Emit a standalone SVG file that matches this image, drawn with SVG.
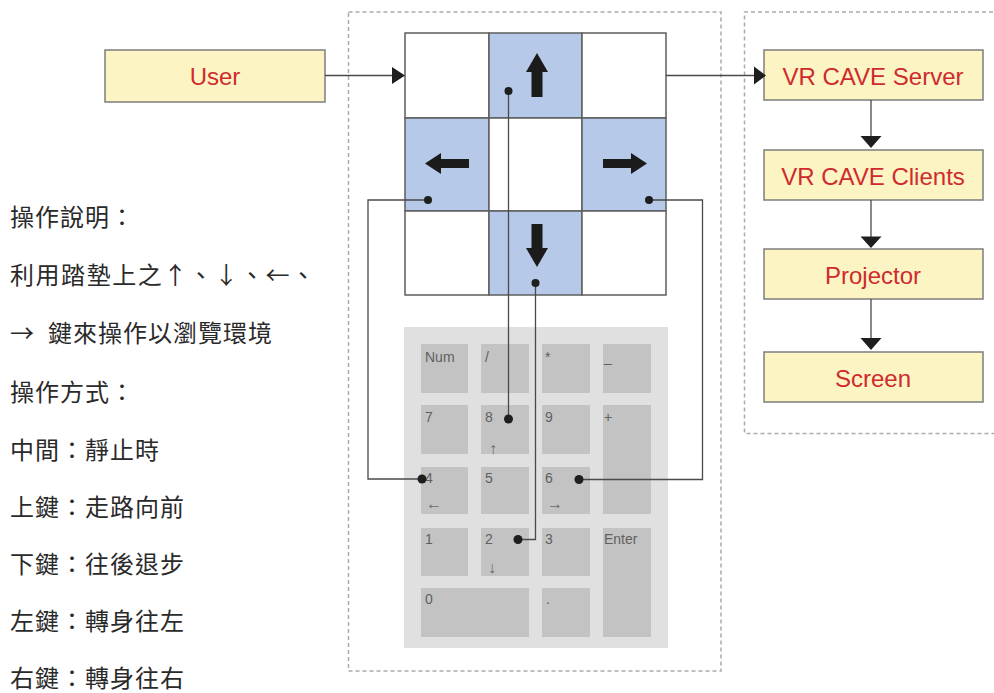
<svg xmlns="http://www.w3.org/2000/svg" width="994" height="693" viewBox="0 0 994 693">
  <style>
    .frame { fill: none; stroke: #ababab; stroke-width: 1.5; stroke-dasharray: 4 3; }
    .box { fill: #fdf4c4; stroke: #7d7d7d; stroke-width: 1.5; }
    .boxtxt { font-family: "Liberation Sans", Arial, sans-serif; font-size: 24px; fill: #cf2a2e; text-anchor: middle; }
    .cell { fill: #ffffff; stroke: #5e5e5e; stroke-width: 1.5; }
    .cell.on { fill: #b6c9e8; }
    .glyph { fill: #1b1b1b; }
    .pad { fill: #e0e0e0; }
    .key { fill: #c3c3c3; }
    .klabel { font-family: "Liberation Sans", Arial, sans-serif; font-size: 14px; fill: #5f5f5f; }
    .karrow { font-family: "Liberation Sans", Arial, sans-serif; font-size: 16px; fill: #6a6a6a; text-anchor: middle; }
    .wire { fill: none; stroke: #4a4a4a; stroke-width: 1.3; }
    .dot { fill: #1e1e1e; }
    .head { fill: #1e1e1e; }
    .note { font-family: "Noto Sans CJK TC", "Noto Sans CJK SC", sans-serif; font-size: 24px; fill: #2a2a2a; letter-spacing: 1px; }
  </style>

  <!-- dashed enclosures -->
  <rect class="frame" x="348.5" y="12" width="372.5" height="659"/>
  <path class="frame" d="M1000,12 H744.5 V433.5 H1000"/>

  <!-- source node -->
  <g id="user">
    <rect class="box" x="105" y="50" width="220" height="52"/>
    <text class="boxtxt" x="215" y="84.5">User</text>
  </g>

  <!-- foot mat: 3x3 grid with four direction pads -->
  <g id="mat">
    <rect class="cell" x="405" y="33" width="84" height="85"/>
    <rect class="cell on" x="489" y="33" width="93" height="85"/>
    <rect class="cell" x="582" y="33" width="84" height="85"/>
    <rect class="cell on" x="405" y="118" width="84" height="93"/>
    <rect class="cell" x="489" y="118" width="93" height="93"/>
    <rect class="cell on" x="582" y="118" width="84" height="93"/>
    <rect class="cell" x="405" y="211" width="84" height="84"/>
    <rect class="cell on" x="489" y="211" width="93" height="84"/>
    <rect class="cell" x="582" y="211" width="84" height="84"/>
    <!-- up -->
    <polygon class="glyph" points="537,53 548,72 542.5,72 542.5,97 531.5,97 531.5,72 526,72"/>
    <!-- down -->
    <polygon class="glyph" points="537,267 548,248 542.5,248 542.5,224 531.5,224 531.5,248 526,248"/>
    <!-- left -->
    <polygon class="glyph" points="425,163.5 441,153 441,159 469,159 469,168 441,168 441,174"/>
    <!-- right -->
    <polygon class="glyph" points="647,163.5 631,153 631,159 603,159 603,168 631,168 631,174"/>
  </g>

  <!-- numeric keypad -->
  <g id="keypad">
    <rect class="pad" x="404" y="327" width="264" height="321"/>
    <rect class="key" x="421" y="344" width="47" height="49"/>
    <rect class="key" x="481" y="344" width="48" height="49"/>
    <rect class="key" x="542" y="344" width="48" height="49"/>
    <rect class="key" x="603" y="344" width="48" height="49"/>
    <rect class="key" x="421" y="405" width="47" height="49"/>
    <rect class="key" x="481" y="405" width="48" height="49"/>
    <rect class="key" x="542" y="405" width="48" height="49"/>
    <rect class="key" x="603" y="405" width="48" height="109"/>
    <rect class="key" x="421" y="467" width="47" height="47"/>
    <rect class="key" x="481" y="467" width="48" height="47"/>
    <rect class="key" x="542" y="467" width="48" height="47"/>
    <rect class="key" x="421" y="528" width="47" height="48"/>
    <rect class="key" x="481" y="528" width="48" height="48"/>
    <rect class="key" x="542" y="528" width="48" height="48"/>
    <rect class="key" x="603" y="528" width="48" height="109"/>
    <rect class="key" x="421" y="588" width="108" height="49"/>
    <rect class="key" x="542" y="588" width="48" height="49"/>

    <text class="klabel" x="425" y="362">Num</text>
    <text class="klabel" x="485" y="362">/</text>
    <text class="klabel" x="545" y="362">*</text>
    <text class="klabel" x="604" y="362">_</text>
    <text class="klabel" x="425" y="422">7</text>
    <text class="klabel" x="485" y="422">8</text>
    <text class="klabel" x="545" y="422">9</text>
    <text class="klabel" x="604" y="422">+</text>
    <text class="klabel" x="425" y="483">4</text>
    <text class="klabel" x="485" y="483">5</text>
    <text class="klabel" x="545" y="483">6</text>
    <text class="klabel" x="425" y="544">1</text>
    <text class="klabel" x="485" y="544">2</text>
    <text class="klabel" x="545" y="544">3</text>
    <text class="klabel" x="604" y="544">Enter</text>
    <text class="klabel" x="425" y="604">0</text>
    <text class="klabel" x="546" y="604">.</text>

    <text class="karrow" x="493" y="454">↑</text>
    <text class="karrow" x="434" y="509">←</text>
    <text class="karrow" x="555" y="509">→</text>
    <text class="karrow" x="492" y="573">↓</text>
  </g>

  <!-- system chain -->
  <g id="server">
    <rect class="box" x="764" y="50" width="219" height="50"/>
    <text class="boxtxt" x="873" y="84.5">VR CAVE Server</text>
  </g>
  <g id="clients">
    <rect class="box" x="764" y="150" width="219" height="50"/>
    <text class="boxtxt" x="873" y="184.5">VR CAVE Clients</text>
  </g>
  <g id="projector">
    <rect class="box" x="764" y="249" width="219" height="50"/>
    <text class="boxtxt" x="873" y="284">Projector</text>
  </g>
  <g id="screen">
    <rect class="box" x="764" y="352" width="219" height="50"/>
    <text class="boxtxt" x="873" y="386.5">Screen</text>
  </g>

  <!-- connectors -->
  <g id="connectors">
    <path class="wire" d="M325,75.5 H393"/>
    <polygon class="head" points="392,67 392,84 405,75.5"/>
    <path class="wire" d="M666,75.5 H755"/>
    <polygon class="head" points="754,66.5 754,84.5 766,75.5"/>

    <path class="wire" d="M871,100 V137"/>
    <polygon class="head" points="860.5,136 881.5,136 871,148"/>
    <path class="wire" d="M871,200 V237"/>
    <polygon class="head" points="860.5,236.5 881.5,236.5 871,248"/>
    <path class="wire" d="M871,299 V339"/>
    <polygon class="head" points="860.5,338 881.5,338 871,350"/>

    <!-- mat pads wired to keypad keys -->
    <path class="wire" d="M508.5,91 V419"/>
    <path class="wire" d="M428,200 H368 V479 H422"/>
    <path class="wire" d="M649,200 H702.5 V479.5 H579"/>
    <path class="wire" d="M535.5,283 V539.5 H518"/>
    <circle class="dot" cx="508.5" cy="91" r="4"/>
    <circle class="dot" cx="428" cy="200" r="4"/>
    <circle class="dot" cx="649" cy="200" r="4"/>
    <circle class="dot" cx="535.5" cy="283" r="4"/>
    <circle class="dot" cx="508.5" cy="419" r="4.5"/>
    <circle class="dot" cx="422" cy="479" r="4.5"/>
    <circle class="dot" cx="579" cy="479.5" r="4.5"/>
    <circle class="dot" cx="518" cy="539.5" r="4.5"/>
  </g>

  <!-- operating notes -->
  <g id="notes">
    <text class="note" x="10" y="226">操作說明：</text>
    <text class="note" x="10" y="284" textLength="306" lengthAdjust="spacing">利用踏墊上之↑、↓、←、</text>
    <text class="note" x="10" y="342">→</text>
    <text class="note" x="48" y="342">鍵來操作以瀏覽環境</text>
    <text class="note" x="10" y="401">操作方式：</text>
    <text class="note" x="10" y="459">中間：靜止時</text>
    <text class="note" x="10" y="516">上鍵：走路向前</text>
    <text class="note" x="10" y="573">下鍵：往後退步</text>
    <text class="note" x="10" y="630">左鍵：轉身往左</text>
    <text class="note" x="10" y="687">右鍵：轉身往右</text>
  </g>
</svg>
